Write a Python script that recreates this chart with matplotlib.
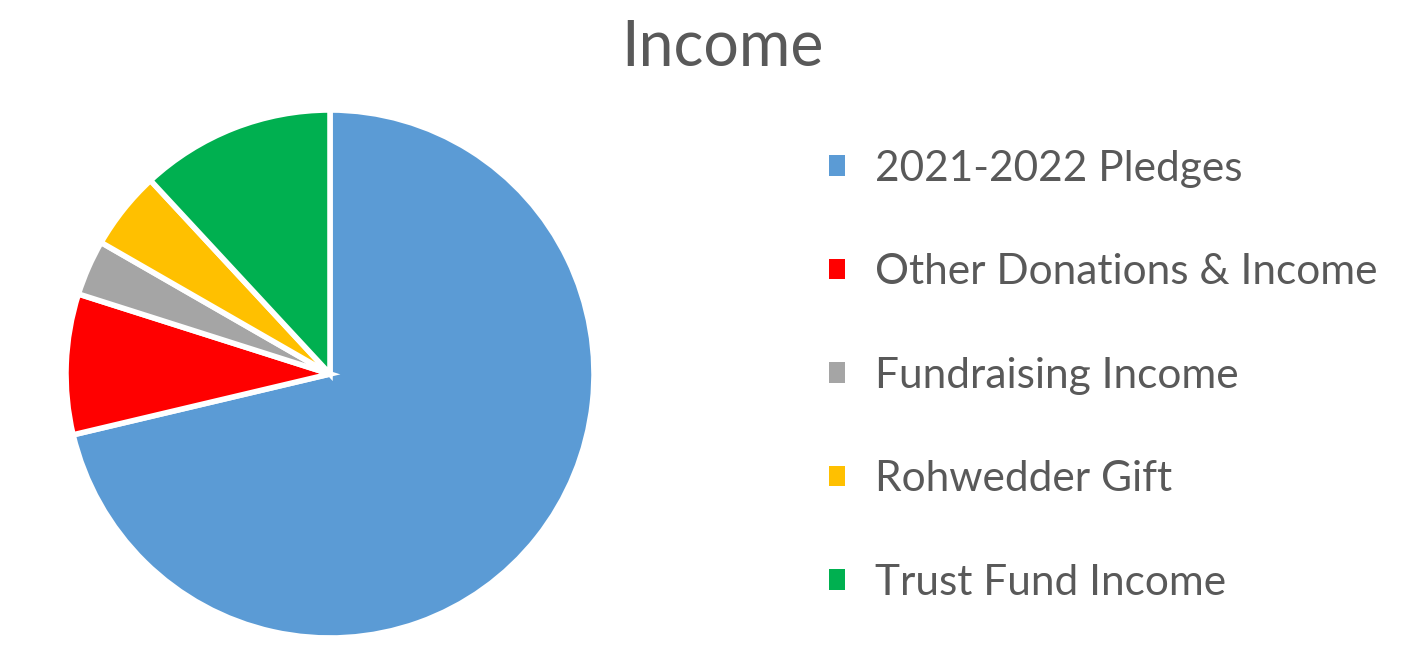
import matplotlib

matplotlib.use("Agg")
import matplotlib.pyplot as plt
from matplotlib.patches import Patch

plt.rcParams["font.family"] = ["Lato", "DejaVu Sans"]

# --- data ---------------------------------------------------------------
labels = ["2021-2022 Pledges", "Other Donations & Income", "Fundraising Income",
          "Rohwedder Gift", "Trust Fund Income"]
shares = [71.3, 8.6, 3.4, 4.8, 11.9]
colors = ["#5B9BD5", "#FF0000", "#A5A5A5", "#FFC000", "#00B050"]
text_grey = "#595959"

fig = plt.figure(figsize=(14.18, 6.62), dpi=100)
W, H = 1418, 662
# pie centre ~(330, 374) px, radius ~264 px
cx, cy, r = 330, 374, 264
ax = fig.add_axes([(cx - r) / W, 1 - (cy + r) / H, 2 * r / W, 2 * r / H])
ax.pie(shares, colors=colors, startangle=90, counterclock=False,
       wedgeprops=dict(edgecolor="white", linewidth=4))
ax.set_aspect("equal")
ax.set_xlim(-1, 1)
ax.set_ylim(-1, 1)

fig.text(722 / W, 1 - 48 / H, "Income", ha="center", va="center",
         fontsize=45, color=text_grey)

handles = [Patch(facecolor=c, edgecolor="none") for c in colors]
leg = fig.legend(handles, labels, loc="upper left",
                 bbox_to_anchor=(812 / W, 1 - 133 / H), frameon=False,
                 fontsize=30.5, labelcolor=text_grey, handlelength=0.37,
                 handleheight=0.37, handletextpad=0.72, labelspacing=1.545,
                 borderaxespad=0)

fig.savefig("out.png", dpi=100)
